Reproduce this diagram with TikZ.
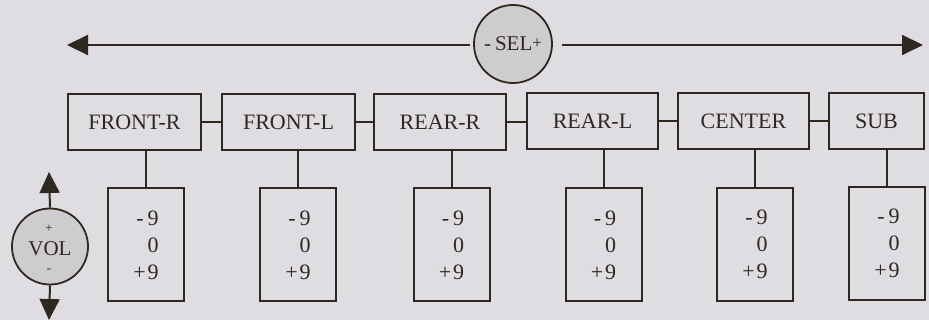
\documentclass[tikz,border=0pt]{standalone}
\usepackage{fontspec}
\setmainfont{Liberation Serif}
\usetikzlibrary{arrows.meta}
\definecolor{bg}{RGB}{223,221,225}
\definecolor{knob}{RGB}{206,204,207}
\definecolor{ink}{RGB}{45,40,32}
\tikzset{
  chbox/.style={draw=ink, line width=2pt, inner sep=0pt, minimum width=#1, minimum height=56pt,
    font=\fontsize{22}{22}\selectfont, text=ink},
  lvbox/.style={draw=ink, line width=2pt, inner sep=0pt, minimum width=76pt, minimum height=113pt,
    font=\fontsize{22}{27}\selectfont, text=ink, align=right},
  knobc/.style={circle, draw=ink, line width=1.8pt, fill=knob, inner sep=0pt, minimum size=#1, text=ink},
  link/.style={draw=ink, line width=2pt},
  arr/.style={draw=ink, line width=2pt, -{Triangle[length=21pt,width=20pt]}},
}
\newcommand{\lvtext}{-\kern4pt9\\0\\+\kern2pt9}
\begin{document}
\begin{tikzpicture}[x=1pt,y=-1pt]
\useasboundingbox[fill=bg] (0,0) rectangle (929,320);
% selector knob and arrow
\node[knobc=78pt, font=\fontsize{21}{21}\selectfont] (sel) at (513,44) {-\kern4pt SEL\raisebox{2pt}{\fontsize{17}{17}\selectfont +}};
\coordinate (L) at (67,45);
\coordinate (R) at (923,45);
\draw[arr, shorten <=3pt] (sel.west |- L) -- (L);
\draw[arr, shorten <=9pt] (sel.east |- R) -- (R);
% channel boxes
\node[chbox=133pt] (fr) at (134.5,122) {FRONT-R};
\node[chbox=133pt] (fl) at (288.5,122) {FRONT-L};
\node[chbox=132pt] (rr) at (440,122) {REAR-R};
\node[chbox=131pt] (rl) at (592.5,121.5) {REAR-L};
\node[chbox=131pt] (ce) at (743.5,121) {CENTER};
\node[chbox=95pt]  (su) at (876.5,121) {SUB};
\draw[link] (fr.east) -- (fl.west);
\draw[link] (fl.east) -- (rr.west);
\draw[link] (rr.east) -- (rr.east -| rl.west);
\draw[link] (rl.east) -- (rl.east -| ce.west);
\draw[link] (ce.east) -- (su.west);
% level boxes
\node[lvbox] (lfr) at (146,245) {\lvtext};
\node[lvbox] (lfl) at (298,245) {\lvtext};
\node[lvbox] (lrr) at (451.5,245) {\lvtext};
\node[lvbox] (lrl) at (603.5,245) {\lvtext};
\node[lvbox] (lce) at (755,244.5) {\lvtext};
\node[lvbox] (lsu) at (887,243.5) {\lvtext};
\foreach \a/\b in {fr/lfr, fl/lfl, rr/lrr, rl/lrl, ce/lce, su/lsu}
  \draw[link] (\b.north) -- (\b.north |- \a.south);
% volume knob
\node[knobc=76pt] (vol) at (50,246.5) {};
\node[text=ink, font=\fontsize{21}{21}\selectfont] (voltxt) at (50,249) {VOL};
\node[text=ink, font=\fontsize{13}{13}\selectfont] (volp) at (49,229) {+};
\node[text=ink, font=\fontsize{13}{13}\selectfont] (volm) at (49,271) {-};
\coordinate (U) at (49,172);
\coordinate (D) at (49,320);
\draw[arr] (vol.north) -- (U);
\draw[arr] (vol.south) -- (D);
\end{tikzpicture}
\end{document}
